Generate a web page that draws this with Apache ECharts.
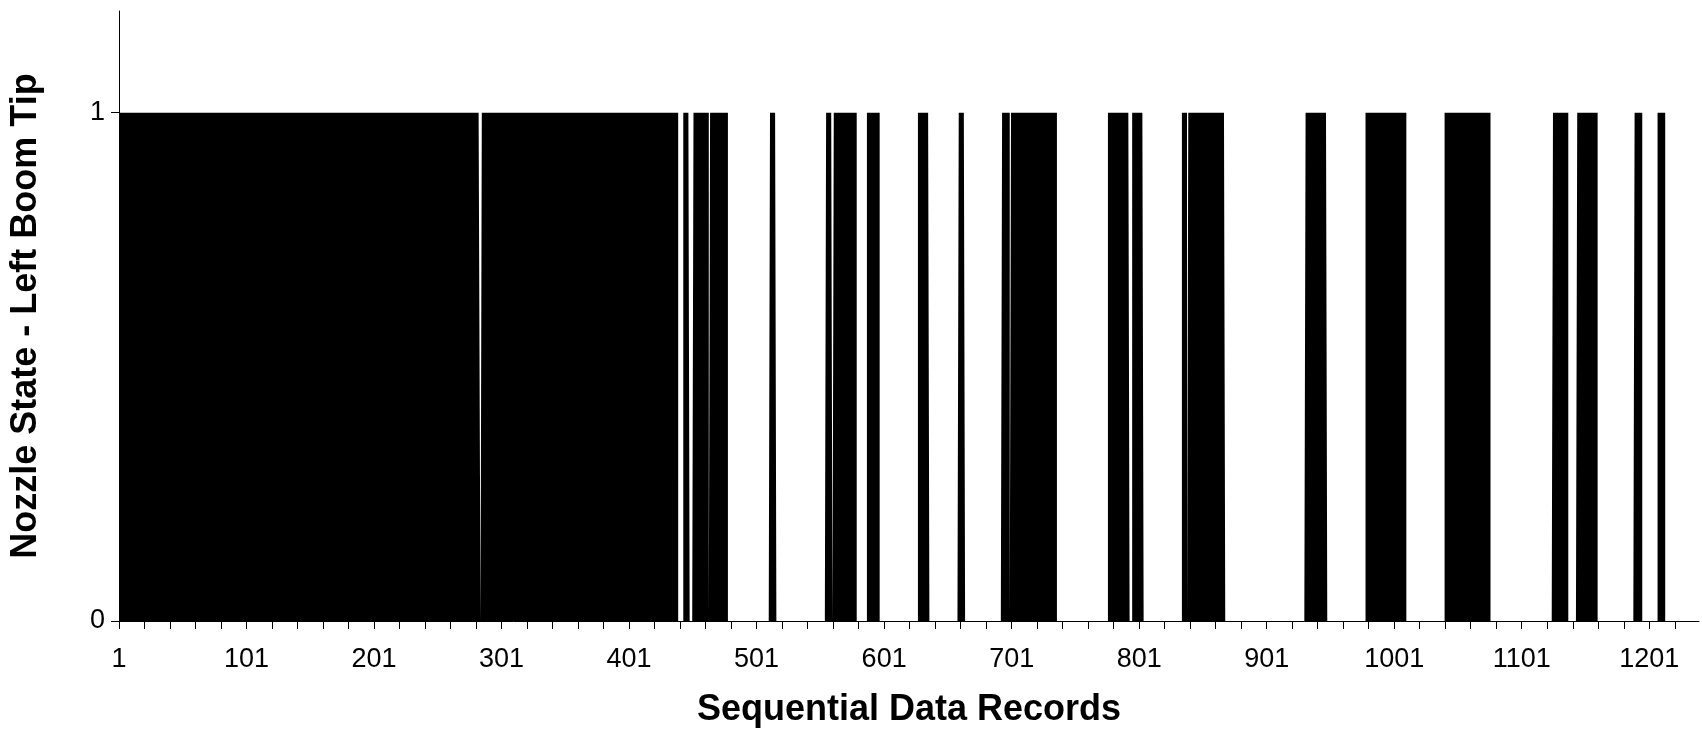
<!DOCTYPE html>
<html lang="en">
  <head>
    <meta charset="UTF-8" />
    <title>Nozzle State - Left Boom Tip</title>
    <script src="https://cdn.jsdelivr.net/npm/echarts@6/dist/echarts.min.js"></script>
    <style>
      html,
      body {
        margin: 0;
        padding: 0;
        background: #fff;
      }
      #chart {
        width: 1702px;
        height: 729px;
      }
    </style>
  </head>
  <body>
    <div id="chart"></div>
    <script>
      // records 1..1240; nozzle is on (1) inside these runs, off (0) elsewhere
      const recordCount = 1240;
      const onStart = [1, 286, 444, 452, 465, 512, 556, 562, 588, 628, 660, 694, 701, 777, 796, 835, 840, 932, 979, 1041, 1126, 1145, 1190, 1208];
      const onEnd = [284, 439, 448, 463, 478, 516, 560, 579, 597, 636, 664, 699, 736, 793, 804, 838, 868, 948, 1010, 1076, 1137, 1160, 1195, 1213];
      const yTicks = [0, 1];

      const font = "'Liberation Sans', Arial, sans-serif";

      let records = [];
      let state = [];
      for (let i = 1; i <= recordCount; i++) {
        records.push(String(i));
        state.push(0);
      }
      onStart.forEach((s, k) => {
        for (let r = s; r <= onEnd[k]; r++) state[r - 1] = 1;
      });

      var myChart = echarts.init(document.getElementById("chart"));
      var option = {
        animation: false,
        grid: {
          left: 119,
          right: 3,
          top: 11,
          bottom: 108,
          outerBoundsMode: "none",
        },
        xAxis: {
          type: "category",
          data: records,
          boundaryGap: false,
          name: "Sequential Data Records",
          nameLocation: "middle",
          nameGap: 71,
          nameTextStyle: {
            fontFamily: font,
            fontSize: 36,
            fontWeight: "bold",
            color: "#000",
          },
          axisLine: { lineStyle: { color: "#000", width: 1 } },
          axisTick: {
            interval: 19,
            length: 8,
            lineStyle: { color: "#000" },
          },
          axisLabel: {
            interval: 99,
            margin: 25,
            fontFamily: font,
            fontSize: 27,
            color: "#000",
          },
          splitLine: { show: false },
        },
        yAxis: {
          type: "value",
          min: 0,
          max: 1.2,
          name: "Nozzle State - Left Boom Tip",
          nameLocation: "middle",
          nameGap: 75,
          nameTextStyle: {
            fontFamily: font,
            fontSize: 36,
            fontWeight: "bold",
            color: "#000",
          },
          axisLine: { show: true, lineStyle: { color: "#000", width: 1 } },
          axisTick: {
            show: true,
            length: 8,
            customValues: yTicks,
            lineStyle: { color: "#000" },
          },
          axisLabel: {
            customValues: yTicks,
            margin: 14,
            fontFamily: font,
            fontSize: 27,
            color: "#000",
          },
          splitLine: { show: false },
        },
        series: [
          {
            name: "Nozzle State",
            type: "line",
            step: "middle",
            symbol: "none",
            data: state,
            lineStyle: { width: 0, color: "#000" },
            areaStyle: { color: "#000", opacity: 1 },
          },
        ],
      };
      option && myChart.setOption(option);
    </script>
  </body>
</html>
